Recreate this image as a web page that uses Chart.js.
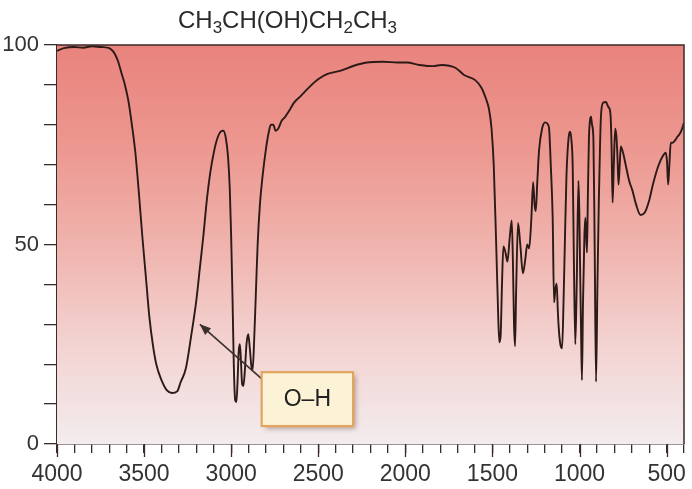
<!DOCTYPE html>
<html>
<head>
<meta charset="utf-8">
<script src="https://cdn.jsdelivr.net/npm/chart.js@4/dist/chart.umd.min.js"></script>
<style>
  html, body { margin: 0; padding: 0; background: #ffffff; }
  #wrap { width: 692px; height: 489px; position: relative; }
</style>
</head>
<body>
<div id="wrap"><canvas id="c" width="692" height="489"></canvas></div>
<script>
// ---- Data ----
const titleParts = [["CH", 0], ["3", 1], ["CH(OH)CH", 0], ["2", 1], ["CH", 0], ["3", 1]];
const bandLabel = "O\u2013H";
const arrowTip = [3180, 30];          // wavenumber, %T the arrow points to
const boxRange = [2825, 2300, 18, 4.5]; // wavenumber left/right, %T top/bottom of label box

const wavenumber = [
  4000, 3960, 3900, 3850, 3800, 3750, 3700, 3680, 3665, 3650, 3630, 3610, 3590, 3570, 3550, 3530, 3510, 3490, 3470, 3450,
  3430, 3400, 3370, 3340, 3310, 3290, 3260, 3230, 3200, 3180, 3160, 3140, 3120, 3100, 3080, 3060, 3045, 3030, 3018, 3008,
  3000, 2992, 2985, 2977, 2970, 2963, 2957, 2950, 2944, 2937, 2930, 2922, 2912, 2902, 2893, 2884, 2877, 2868, 2858, 2848,
  2835, 2820, 2800, 2785, 2772, 2758, 2745, 2730, 2710, 2690, 2667, 2640, 2601, 2550, 2501, 2450, 2375, 2295, 2221, 2130,
  2044, 1992, 1918, 1840, 1792, 1713, 1663, 1599, 1563, 1536, 1520, 1505, 1492, 1477, 1466, 1460, 1453, 1445, 1437, 1425,
  1414, 1400, 1389, 1382, 1376, 1370, 1364, 1353, 1340, 1325, 1312, 1300, 1289, 1277, 1266, 1258, 1251, 1242, 1232, 1215,
  1197, 1180, 1174, 1165, 1154, 1146, 1138, 1131, 1125, 1120, 1110, 1100, 1092, 1083, 1075, 1068, 1058, 1053, 1046, 1039,
  1032, 1024, 1016, 1006, 1001, 997, 991, 986, 980, 972, 966, 957, 952, 946, 940, 934, 928, 920, 913, 905,
  897, 889, 882, 877, 865, 848, 835, 823, 816, 810, 803, 795, 788, 782, 776, 769, 763, 750, 735, 715,
  696, 675, 650, 625, 600, 581, 560, 540, 524, 505, 498, 491, 484, 476, 465, 448, 438, 428, 411, 400
];
const transmittance = [
  98.5, 99.2, 99.5, 99.3, 99.7, 99.5, 99.2, 98.5, 97.5, 96, 93, 90, 86, 80, 73, 63, 52, 42, 32, 25,
  20, 16, 13.5, 12.8, 13.2, 15.5, 19, 27, 36, 44, 52, 61, 68, 73, 76.5, 78.3, 78.5, 76.5, 72, 64,
  52, 36, 20, 11, 10.5, 16, 23, 25, 21, 15, 14.5, 18, 25, 27.5, 24, 19.5, 18.5, 26, 38, 50,
  60, 67, 74, 78, 80, 80, 78.5, 79, 81, 82, 83.5, 85.5, 87.2, 89.5, 91.4, 92.7, 93.5, 94.8, 95.6, 95.8,
  95.6, 95.6, 95, 94.7, 95, 94.3, 92.5, 91.2, 89.3, 86.4, 84, 79, 69.5, 48, 31, 25.5, 27, 40, 49.5, 48,
  45.7, 52, 56, 45, 30, 24.5, 38, 55.4, 50, 42.8, 46, 50, 49, 56, 65.6, 60, 58.4, 66, 73.7, 79,
  80.6, 80, 78.8, 70, 56.7, 35.5, 39, 40.2, 34, 29.6, 25, 24, 35, 52.5, 67, 73.7, 78, 78.3, 76, 69.5,
  45, 25, 40, 66, 58, 45.7, 28, 16, 35, 52, 56.7, 48, 62, 76.3, 81, 82, 80, 76.3, 50, 15.6,
  40, 61, 75, 82, 85.5, 85.7, 84.5, 83, 75, 60.5, 70, 79, 77, 72, 65, 70, 74.6, 73, 70, 66,
  63.5, 60, 57.4, 58, 61, 64.6, 68, 70.5, 72, 73, 71, 65, 70, 75.5, 75.5, 76.3, 77, 77.5, 79, 80.5
];
const xTickLabels = [4000, 3500, 3000, 2500, 2000, 1500, 1000, 500];
const yTickLabels = [0, 50, 100];

// ---- Chart ----
const FONT = "'Liberation Sans', Arial, Helvetica, sans-serif";
const points = wavenumber.map((w, i) => ({ x: w, y: transmittance[i] }));

const backgroundPlugin = {
  id: 'bg',
  beforeDatasetsDraw(chart) {
    const { ctx, chartArea: a } = chart;
    const g = ctx.createLinearGradient(0, a.top, 0, a.bottom);
    g.addColorStop(0.0, '#e9837d');
    g.addColorStop(0.25, '#ec978f');
    g.addColorStop(0.5, '#f0b3ad');
    g.addColorStop(0.75, '#f3d3d1');
    g.addColorStop(1.0, '#f3ecee');
    ctx.save();
    ctx.fillStyle = g;
    ctx.fillRect(a.left, a.top, a.right - a.left, a.bottom - a.top);
    ctx.restore();
  },
  afterDatasetsDraw(chart) {
    const { ctx, chartArea: a, scales } = chart;
    const xs = scales.x, ys = scales.y;
    ctx.save();
    // frame (top and right)
    ctx.strokeStyle = '#3a2a28';
    ctx.lineWidth = 1.5;
    ctx.beginPath();
    ctx.moveTo(a.left, a.top); ctx.lineTo(a.right, a.top); ctx.lineTo(a.right, a.bottom);
    ctx.stroke();

    // longer ticks at labelled wavenumbers
    ctx.lineWidth = 1.3;
    ctx.beginPath();
    for (const v of xTickLabels) {
      const px = Math.round(xs.getPixelForValue(v)) + 0.5;
      ctx.moveTo(px, a.bottom); ctx.lineTo(px, a.bottom + 13);
    }
    ctx.stroke();

    // label box
    const bx0 = xs.getPixelForValue(boxRange[0]);
    const bx1 = xs.getPixelForValue(boxRange[1]);
    const by0 = ys.getPixelForValue(boxRange[2]);
    const by1 = ys.getPixelForValue(boxRange[3]);
    // arrow
    const tx = xs.getPixelForValue(arrowTip[0]);
    const ty = ys.getPixelForValue(arrowTip[1]);
    const sx = bx0 + 5, sy = by0 + 11;
    ctx.strokeStyle = '#3b302e';
    ctx.fillStyle = '#3b302e';
    ctx.lineWidth = 1.6;
    ctx.beginPath(); ctx.moveTo(sx, sy); ctx.lineTo(tx, ty); ctx.stroke();
    const ang = Math.atan2(ty - sy, tx - sx);
    const L = 11, W = 4.5;
    ctx.beginPath();
    ctx.moveTo(tx, ty);
    ctx.lineTo(tx - L * Math.cos(ang) + W * Math.sin(ang), ty - L * Math.sin(ang) - W * Math.cos(ang));
    ctx.lineTo(tx - L * Math.cos(ang) - W * Math.sin(ang), ty - L * Math.sin(ang) + W * Math.cos(ang));
    ctx.closePath(); ctx.fill();

    // shadow
    ctx.shadowColor = 'rgba(90,60,40,0.45)';
    ctx.shadowBlur = 5; ctx.shadowOffsetX = 3; ctx.shadowOffsetY = 3;
    ctx.fillStyle = '#fcf3d6';
    ctx.fillRect(bx0, by0, bx1 - bx0, by1 - by0);
    ctx.shadowColor = 'transparent';
    ctx.strokeStyle = '#e2a55f';
    ctx.lineWidth = 2.2;
    ctx.strokeRect(bx0, by0, bx1 - bx0, by1 - by0);
    ctx.fillStyle = '#222';
    ctx.font = '23px ' + FONT;
    ctx.textAlign = 'center';
    ctx.textBaseline = 'middle';
    ctx.fillText(bandLabel, (bx0 + bx1) / 2, (by0 + by1) / 2 + 1);
    ctx.restore();
  },
  afterDraw(chart) {
    const { ctx, chartArea: a } = chart;
    ctx.save();
    ctx.fillStyle = '#2a2a2a';
    ctx.textBaseline = 'alphabetic';
    ctx.textAlign = 'left';
    let x = a.left + 121;
    const base = 28;
    for (const [t, sub] of titleParts) {
      ctx.font = (sub ? '17px ' : '24px ') + FONT;
      ctx.fillText(t, x, sub ? base + 5 : base);
      x += ctx.measureText(t).width;
    }
    ctx.restore();
  }
};

new Chart(document.getElementById('c'), {
  type: 'line',
  data: {
    datasets: [{
      data: points,
      borderColor: '#2b1a18',
      borderWidth: 1.9,
      pointRadius: 0,
      fill: false,
      cubicInterpolationMode: 'monotone'
    }]
  },
  options: {
    responsive: false,
    animation: false,
    events: [],
    layout: { padding: { top: 45, right: 6, left: 0, bottom: 0 } },
    plugins: { legend: { display: false }, tooltip: { enabled: false }, title: { display: false } },
    scales: {
      x: {
        type: 'linear',
        reverse: true,
        min: 400,
        max: 4000,
        afterFit(s) { s.height = 45; },
        afterBuildTicks(s) {
          const t = [];
          for (let v = 4000; v >= 400; v -= 100) t.push({ value: v });
          s.ticks = t;
        },
        ticks: {
          autoSkip: false,
          maxRotation: 0,
          padding: 8,
          color: '#333',
          font: { family: FONT, size: 23 },
          callback: (v) => xTickLabels.includes(v) ? String(v) : ''
        },
        grid: { drawOnChartArea: false, drawTicks: true, tickLength: 9, color: '#3a2a28', lineWidth: 1.3 },
        border: { display: true, color: '#3a2a28', width: 1.5 }
      },
      y: {
        min: 0,
        max: 100,
        afterFit(s) { s.width = 57; },
        afterBuildTicks(s) {
          const t = [];
          for (let v = 0; v <= 100; v += 10) t.push({ value: v });
          s.ticks = t;
        },
        ticks: {
          autoSkip: false,
          padding: 5,
          color: '#333',
          font: { family: FONT, size: 22 },
          callback: (v) => yTickLabels.includes(v) ? String(v) : ''
        },
        grid: { drawOnChartArea: false, drawTicks: true, tickLength: 13, color: '#3a2a28', lineWidth: 1.3 },
        border: { display: true, color: '#3a2a28', width: 1.5 }
      }
    }
  },
  plugins: [backgroundPlugin]
});
</script>
</body>
</html>
